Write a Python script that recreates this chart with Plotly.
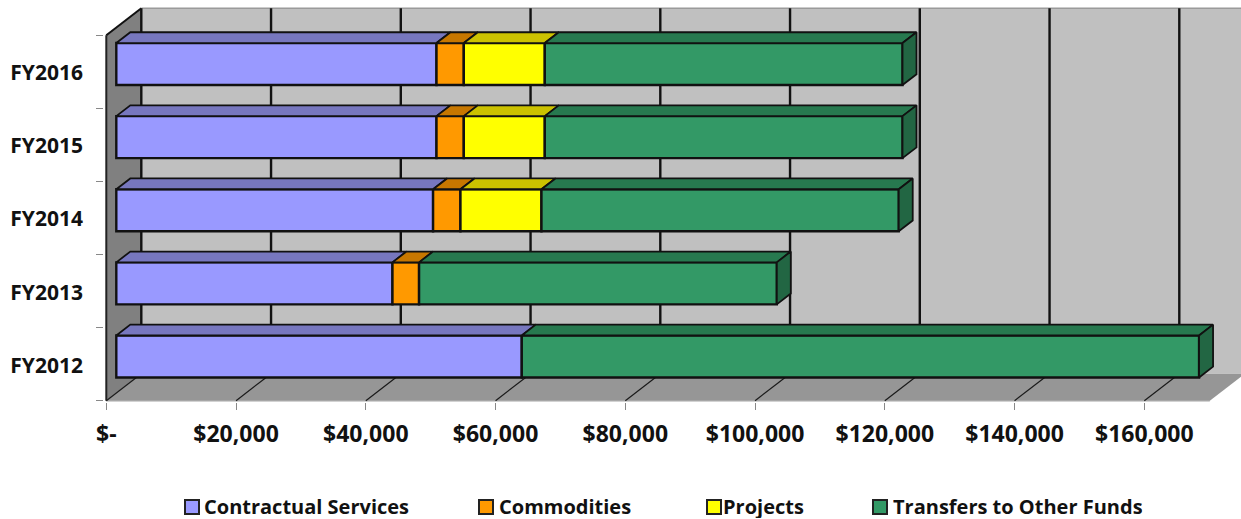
import plotly.graph_objects as go

# ---- data ----
categories = ["FY2012", "FY2013", "FY2014", "FY2015", "FY2016"]
contractual = [62500, 42570, 48830, 49355, 49355]
commodities = [None, 4100, 4220, 4210, 4210]
projects = [None, None, 12485, 12485, 12485]
transfers = [104400, 55140, 55070, 55140, 55140]
x_ticks = [0, 20000, 40000, 60000, 80000, 100000, 120000, 140000, 160000]
x_labels = ["$-", "$20,000", "$40,000", "$60,000", "$80,000", "$100,000", "$120,000", "$140,000", "$160,000"]
axis_max = 170100

names = ["Contractual Services", "Commodities", "Projects", "Transfers to Other Funds"]
series = [contractual, commodities, projects, transfers]
front_colors = ["#9999FF", "#FF9900", "#FFFF00", "#339966"]
top_colors = ["#7777BF", "#C77700", "#CCC200", "#27794F"]
side_color = "#226643"
edge = "#111111"
FONT = "Open Sans"

# ---- pseudo-3D projection, in axis units ----
W, H = 1241, 519
PX_X0, PX_Y0 = 106.3, 400.7          # pixel of value 0 / lower edge of FY2012 band
PX_PER_VAL = 129.75 / 20000
PX_PER_BAND = 73.1
DEPTH_X, DEPTH_Y = 35.0, 27.0        # wall offset from the front edge of the floor
BAR_FRONT, BAR_BACK = 10 / 35, 24 / 35
BAR_WIDTH = 42 / 73.1
PLOT_L, PLOT_B = 104, 402


def dx(d):
    return d * DEPTH_X / PX_PER_VAL


def dy(d):
    return d * DEPTH_Y / PX_PER_BAND


y_floor = -0.5
y_top = 4.5
x_min = (PLOT_L - PX_X0) / PX_PER_VAL
x_max = (W - PX_X0) / PX_PER_VAL
y_min = y_floor - (PLOT_B - PX_Y0) / PX_PER_BAND
y_max = y_floor + PX_Y0 / PX_PER_BAND


def poly(pts, fill, line=None, width=0):
    path = "M " + " L ".join(f"{a} {b}" for a, b in pts) + " Z"
    return dict(type="path", path=path, xref="x", yref="y", layer="below",
                fillcolor=fill, line=dict(color=line or fill, width=width))


def seg(x0, y0, x1, y1, color, width):
    return dict(type="line", x0=x0, y0=y0, x1=x1, y1=y1, xref="x", yref="y",
                layer="below", line=dict(color=color, width=width))


shapes = [
    # back wall
    poly([(dx(1), y_floor + dy(1)), (axis_max + dx(1), y_floor + dy(1)),
          (axis_max + dx(1), y_top + dy(1)), (dx(1), y_top + dy(1))], "#C0C0C0"),
    # left wall
    poly([(0, y_floor), (dx(1), y_floor + dy(1)), (dx(1), y_top + dy(1)), (0, y_top)], "#808080"),
    # floor
    poly([(0, y_floor), (axis_max, y_floor), (axis_max + dx(1), y_floor + dy(1)), (dx(1), y_floor + dy(1))], "#969696"),
    seg(dx(1), y_top + dy(1), axis_max + dx(1), y_top + dy(1), "#9A9A9A", 1.5),
    seg(0, y_floor, axis_max, y_floor, "#A6A6A6", 1.5),
    seg(0, y_top, dx(1), y_top + dy(1), "#111111", 2),
    seg(0, y_floor, 0, y_top, "#222222", 2),
    seg(dx(1), y_floor + dy(1), dx(1), y_top + dy(1), "#808080", 1),
]
for t in x_ticks:
    shapes.append(seg(t + dx(1), y_floor + dy(1), t + dx(1), y_top + dy(1), "#111111", 2.4))
    shapes.append(seg(t, y_floor, t + dx(1), y_floor + dy(1), "#1A1A1A", 1.2))

# legend drawn in page coordinates
legend_x = [185, 479, 707, 873]
legend_text_x = [202, 497, 721, 891]
annotations = []
for i, nm in enumerate(names):
    shapes.append(dict(type="rect", xref="paper", yref="paper",
                       x0=(legend_x[i] - PLOT_L) / (W - PLOT_L),
                       x1=(legend_x[i] + 14 - PLOT_L) / (W - PLOT_L),
                       y0=(PLOT_B - 514) / PLOT_B, y1=(PLOT_B - 500) / PLOT_B,
                       fillcolor=front_colors[i], line=dict(color="#222222", width=2)))
    annotations.append(dict(text=f"<b>{nm}</b>", xref="paper", yref="paper", showarrow=False,
                            x=(legend_text_x[i] - PLOT_L) / (W - PLOT_L), xanchor="left",
                            y=(PLOT_B - 505.5) / PLOT_B, yanchor="middle", height=24, valign="middle",
                            font=dict(family=FONT, size=20, color="#111111")))

fig = go.Figure()
cum = [0] * len(categories)
y_pos = list(range(len(categories)))
tops = []
for i, (nm, vals) in enumerate(zip(names, series)):
    xs, ys, bases = [], [], []
    tx, ty = [], []
    for c, v in enumerate(vals):
        if not v:
            continue
        start = cum[c]
        xs.append(v)
        ys.append(c + dy(BAR_FRONT))
        bases.append(start + dx(BAR_FRONT))
        yt = c + dy(BAR_FRONT) + BAR_WIDTH / 2
        d = dy(BAR_BACK - BAR_FRONT)
        tx += [start + dx(BAR_FRONT), start + v + dx(BAR_FRONT), start + v + dx(BAR_BACK), start + dx(BAR_BACK), start + dx(BAR_FRONT), None]
        ty += [yt, yt, yt + d, yt + d, yt, None]
        cum[c] = start + v
    fig.add_trace(go.Bar(name=nm, orientation="h", x=xs, y=ys, base=bases, width=BAR_WIDTH,
                         marker=dict(color=front_colors[i], line=dict(color=edge, width=2.4)),
                         showlegend=False, hoverinfo="skip"))
    tops.append(go.Scatter(x=tx, y=ty, mode="lines", fill="toself", fillcolor=top_colors[i],
                           line=dict(color=edge, width=1.8), showlegend=False, hoverinfo="skip"))
for tr in tops:
    fig.add_trace(tr)

sx, sy = [], []
for c, total in enumerate(cum):
    y_hi = c + dy(BAR_FRONT) + BAR_WIDTH / 2
    y_lo = c + dy(BAR_FRONT) - BAR_WIDTH / 2
    d = dy(BAR_BACK - BAR_FRONT)
    a, b = total + dx(BAR_FRONT), total + dx(BAR_BACK)
    sx += [a, b, b, a, a, None]
    sy += [y_hi, y_hi + d, y_lo + d, y_lo, y_hi, None]
fig.add_trace(go.Scatter(x=sx, y=sy, mode="lines", fill="toself", fillcolor=side_color,
                         line=dict(color=edge, width=1.8), showlegend=False, hoverinfo="skip"))

fig.update_layout(
    width=W, height=H, autosize=False, barmode="overlay", showlegend=False,
    margin=dict(l=PLOT_L, r=0, t=0, b=H - PLOT_B, pad=0),
    paper_bgcolor="white", plot_bgcolor="white",
    shapes=shapes, annotations=annotations,
    xaxis=dict(range=[x_min, x_max], tickmode="array", tickvals=x_ticks, ticktext=[f"<b>{s}</b>" for s in x_labels],
               showgrid=False, zeroline=False, showline=False, ticks="outside", ticklen=7, tickwidth=1,
               tickcolor="#888888", ticklabelstandoff=4,
               tickfont=dict(family=FONT, size=23, color="#111111")),
    yaxis=dict(range=[y_min, y_max], tickmode="array", tickvals=[p - 0.015 for p in y_pos], ticktext=[f"<b>{s}</b>" for s in categories],
               showgrid=False, zeroline=False, showline=False, ticks="", ticklabelstandoff=20,
               tickfont=dict(family=FONT, size=21, color="#111111"),
               minor=dict(tickmode="array", tickvals=[-0.5, 0.5, 1.5, 2.5, 3.5, 4.5], ticks="outside", ticklen=7,
                          tickwidth=1, tickcolor="#888888", showgrid=False)),
)
fig.write_html("out.html", config={"displayModeBar": False},
               post_script="document.body.style.margin='0';document.body.style.overflow='hidden';")
